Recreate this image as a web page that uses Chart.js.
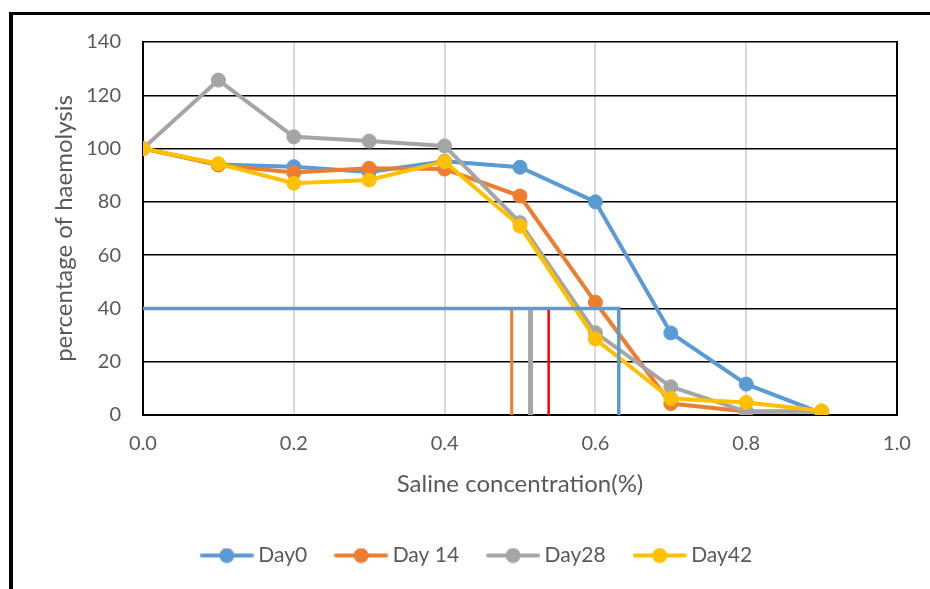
<!DOCTYPE html>
<html>
<head>
<meta charset="utf-8">
<script src="https://cdn.jsdelivr.net/npm/chart.js@4.4.1/dist/chart.umd.min.js"></script>
<style>
  html, body { margin: 0; padding: 0; background: #fff; }
  #frame {
    position: absolute; left: 9px; top: 12px; width: 940px; height: 600px;
    border-left: 4px solid #000; border-top: 3px solid #000;
  }
  #chart { position: absolute; left: 0; top: 0; }
</style>
</head>
<body>
<div id="frame"></div>
<canvas id="chart" width="930" height="589"></canvas>
<script>
  const concentrations = [0.0, 0.1, 0.2, 0.3, 0.4, 0.5, 0.6, 0.7, 0.8, 0.9];
  const day0 = [100, 94, 93.2, 91.2, 95.2, 93, 80, 30.8, 11.6, 0.7];
  const day14 = [100, 93.8, 91, 92.6, 92.3, 82.2, 42.3, 4.3, 1.3, 1.3];
  const day28 = [100, 125.7, 104.4, 102.8, 101, 72.2, 30.9, 10.6, 1.3, 1.3];
  const day42 = [100, 94.3, 87, 88.2, 95.1, 70.9, 28.5, 6.2, 4.7, 1.6];

  const guideLevel = 40;
  const guideXs = [0.489, 0.514, 0.538, 0.631];
  const guideColors = ['#ED7D31', '#A5A5A5', '#FF0000', '#5B9BD5'];
  const guideWidths = [3, 5, 2.5, 3.5];

  const seriesNames = ['Day0', 'Day 14', 'Day28', 'Day42'];
  const seriesColors = ['#5B9BD5', '#ED7D31', '#A5A5A5', '#FFC000'];
  const seriesValues = [day0, day14, day28, day42];

  const textColor = '#595959';
  Chart.defaults.font.family = 'Lato';
  Chart.defaults.color = textColor;

  function points(values) {
    return values.map((v, i) => ({ x: concentrations[i], y: v }));
  }

  // legend icon: short line with a dot in the middle
  function legendIcon(color) {
    const c = document.createElement('canvas');
    c.width = 54; c.height = 16;
    const g = c.getContext('2d');
    g.strokeStyle = color; g.lineWidth = 4; g.lineCap = 'round';
    g.beginPath(); g.moveTo(2, 8); g.lineTo(52, 8); g.stroke();
    g.fillStyle = color;
    g.beginPath(); g.arc(27, 8, 7.5, 0, Math.PI * 2); g.fill();
    return c;
  }
  const legendIcons = seriesColors.map(legendIcon);

  const datasets = seriesValues.map((vals, i) => ({
    label: seriesNames[i],
    data: points(vals),
    borderColor: seriesColors[i],
    backgroundColor: seriesColors[i],
    borderWidth: 4,
    pointRadius: 7,
    pointBorderWidth: 1,
    pointBackgroundColor: seriesColors[i],
    pointBorderColor: seriesColors[i],
    tension: 0,
    order: 4 - i,
  }));

  guideXs.forEach((gx, i) => {
    const isBlue = i === guideXs.length - 1;
    const data = isBlue
      ? [{ x: 0, y: guideLevel }, { x: gx, y: guideLevel }, { x: gx, y: 0 }]
      : [{ x: gx, y: guideLevel - 0.6 }, { x: gx, y: 0 }];
    datasets.push({
      label: 'guide' + i,
      data: data,
      borderColor: guideColors[i],
      borderWidth: guideWidths[i],
      pointRadius: 0,
      tension: 0,
      order: 0,
    });
  });

  new Chart(document.getElementById('chart'), {
    type: 'line',
    data: { datasets: datasets },
    options: {
      responsive: false,
      animation: false,
      layout: { padding: { left: 61, right: 33, top: 42, bottom: 13 } },
      plugins: {
        tooltip: { enabled: false },
        legend: {
          position: 'bottom',
          labels: {
            usePointStyle: true,
            pointStyleWidth: 42,
            padding: 33,
            color: textColor,
            font: { size: 21 },
            filter: item => item.datasetIndex < 4,
            sort: (a, b) => a.datasetIndex - b.datasetIndex,
            generateLabels(chart) {
              const items = Chart.defaults.plugins.legend.labels.generateLabels(chart);
              items.forEach(it => { it.pointStyle = legendIcons[it.datasetIndex]; });
              return items;
            },
          },
        },
      },
      scales: {
        x: {
          type: 'linear',
          min: 0,
          max: 1,
          afterFit(s) { s.height = 97; },
          ticks: {
            stepSize: 0.2,
            padding: 17,
            color: textColor,
            font: { size: 20 },
            callback: v => Number(v).toFixed(1),
          },
          grid: { color: '#D9D9D9', lineWidth: 2, drawTicks: false },
          border: { color: '#000', width: 2 },
          title: {
            display: true,
            text: 'Saline concentration(%)',
            color: textColor,
            font: { size: 24 },
            padding: { top: 0, bottom: 13 },
          },
        },
        y: {
          min: 0,
          max: 140,
          afterFit(s) { s.width = 82; },
          ticks: { stepSize: 20, padding: 22, color: textColor, font: { size: 20 } },
          grid: { color: '#000', lineWidth: 1.5, drawTicks: false },
          border: { color: '#000', width: 2 },
          title: {
            display: true,
            text: 'percentage of haemolysis',
            color: textColor,
            font: { size: 24 },
            padding: { top: -11, bottom: 0 },
          },
        },
        y2: {
          position: 'right',
          min: 0,
          max: 140,
          afterFit(s) { s.width = 0; },
          ticks: { display: false },
          grid: { drawOnChartArea: false, drawTicks: false },
          border: { color: '#000', width: 2 },
        },
      },
    },
  });
</script>
</body>
</html>
